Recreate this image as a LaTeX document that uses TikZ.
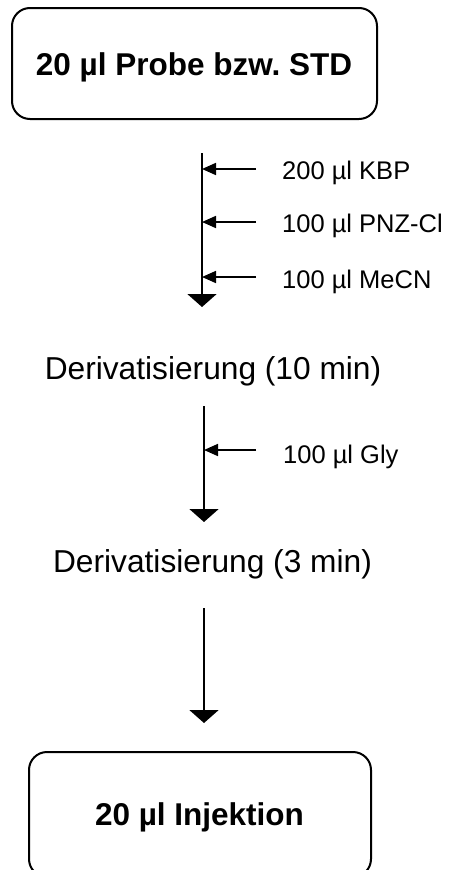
\documentclass[tikz,border=0pt]{standalone}
\usepackage{fontspec}
\setmainfont{Liberation Sans}
\usetikzlibrary{arrows.meta}
\frenchspacing
\begin{document}
\begin{tikzpicture}[x=1pt,y=-1pt,
  box/.style={draw, line width=2pt, rounded corners=18pt, inner sep=0pt},
  boxtext/.style={font=\fontsize{31.5}{36}\selectfont\bfseries, anchor=base, inner sep=0pt},
  steptext/.style={font=\fontsize{31.7}{36}\selectfont, anchor=base, inner sep=0pt},
  addtext/.style={font=\fontsize{25.5}{30}\selectfont, anchor=base west, inner sep=0pt},
  mainarrow/.style={line width=2pt, -{Triangle[width=29pt,length=13pt]}},
  addarrow/.style={line width=1.7pt, -{Triangle[width=12pt,length=14pt]}}]
\useasboundingbox (0,0) rectangle (451,870);
\clip (0,0) rectangle (451,870);

% boxes
\node[box, minimum width=365pt, minimum height=111pt] (probe) at (194.5,63.5) {};
\node[boxtext] (probetext) at (194,75) {20 µl Probe bzw. STD};
\node[box, minimum width=342pt, minimum height=125pt] (inj) at (200,814.5) {};
\node[boxtext] (injtext) at (199.5,825) {20 µl Injektion};

% step texts
\node[steptext] (d10) at (213,379) {Derivatisierung (10 min)};
\node[steptext] (d3) at (212.5,572) {Derivatisierung (3 min)};

% additions
\node[addtext] (kbp) at (282,179) {200 µl KBP};
\node[addtext] (pnz) at (282,232) {100 µl PNZ-Cl};
\node[addtext] (mecn) at (282,288) {100 µl MeCN};
\node[addtext] (gly) at (283,463) {100 µl Gly};

% arrow 1
\coordinate (a1s) at (202,153);
\coordinate (a1e) at (202,307);
\draw[mainarrow] (a1s) -- (a1e);
\coordinate (k1) at (256,169);
\coordinate (k2) at (256,222);
\coordinate (k3) at (256,277);
\draw[addarrow] (k1) -- (k1 -| a1s);
\draw[addarrow] (k2) -- (k2 -| a1s);
\draw[addarrow] (k3) -- (k3 -| a1s);

% arrow 2
\coordinate (a2s) at (204,406);
\coordinate (a2e) at (204,522);
\draw[mainarrow] (a2s) -- (a2e);
\coordinate (g1) at (256,450);
\draw[addarrow] (g1) -- (g1 -| a2s);

% arrow 3
\coordinate (a3s) at (204,608);
\coordinate (a3e) at (204,723);
\draw[mainarrow] (a3s) -- (a3e);
\end{tikzpicture}
\end{document}
